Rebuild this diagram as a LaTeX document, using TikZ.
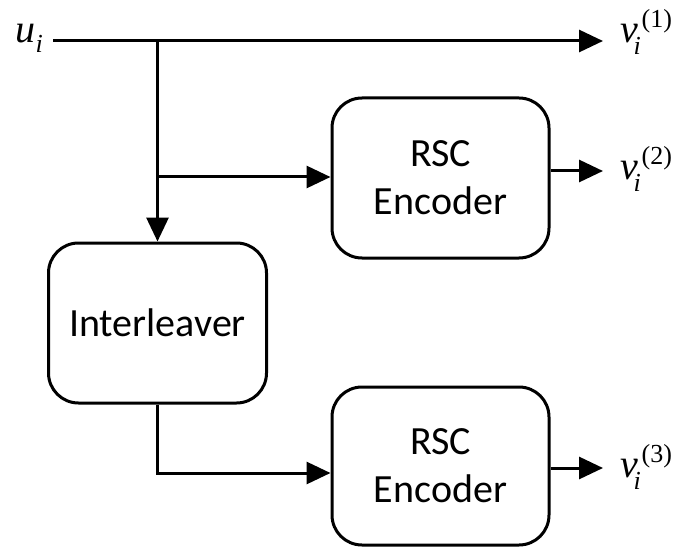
\documentclass[tikz,border=0pt]{standalone}
\usepackage{fontspec}
\setmainfont{Carlito}
\newfontfamily\serifmath{Liberation Serif}
\usetikzlibrary{arrows.meta}

% italic symbol (#1) with subscript i at offset #2 dropped by #5,
% and optional superscript (#3) at offset #4
\newcommand\symsub[5]{{\serifmath\fontsize{40}{40}\selectfont
  \makebox[0pt][l]{\textit{#1}}%
  \makebox[0pt][l]{\kern#2\raisebox{-#5}{\fontsize{26}{26}\selectfont\textit{i}}}%
  \ifx&#3&\else\makebox[0pt][l]{\kern#4\raisebox{15pt}{\fontsize{26}{26}\selectfont(#3)}}\fi}}

\tikzset{
  block/.style={draw, line width=3pt, rounded corners=30pt, align=center,
    font=\fontsize{40}{48}\selectfont, inner sep=0pt},
  flow/.style={line width=3pt, -{Triangle[length=24pt,width=22pt]}},
  lab/.style={anchor=base west, inner sep=0pt}
}

\begin{document}
\begin{tikzpicture}[x=1pt, y=-1pt]
\useasboundingbox (0,0) rectangle (677,548);

% blocks
\node[block, minimum width=217pt, minimum height=160pt] (enc1) at (440.5,178) {RSC\\Encoder};
\node[block, minimum width=218pt, minimum height=160pt] (il) at (157.5,323) {Interleaver};
\node[block, minimum width=217pt, minimum height=158pt] (enc2) at (440.5,466) {RSC\\Encoder};

% labels
\node[lab] (u) at (15,43) {\symsub{u}{20pt}{}{0pt}{10pt}};
\node[lab] (v1) at (620,43) {\symsub{v}{13pt}{1}{21pt}{12pt}};
\node[lab] (v2) at (620,180) {\symsub{v}{13pt}{2}{21pt}{12pt}};
\node[lab] (v3) at (620,477) {\symsub{v}{13pt}{3}{21pt}{12pt}};

% branch points and free ends
\coordinate (start) at (53,41);
\coordinate (split) at (157.5,41);
\coordinate (tap) at (157.5,177);
\coordinate (o1) at (603,41);
\coordinate (o2) at (603,171);
\coordinate (o3) at (603,468);

% systematic output
\draw[flow] (start) -- (o1);
% feed to interleaver and first encoder
\draw[flow] (split) -- (il.north);
\draw[flow] (tap) -- (enc1.west |- tap);
% interleaved sequence to second encoder
\draw[flow] (il.south) |- ([yshift=-7pt]enc2.west);
% parity outputs
\draw[flow] (enc1.east |- o2) -- (o2);
\draw[flow] (enc2.east |- o3) -- (o3);
\end{tikzpicture}
\end{document}
